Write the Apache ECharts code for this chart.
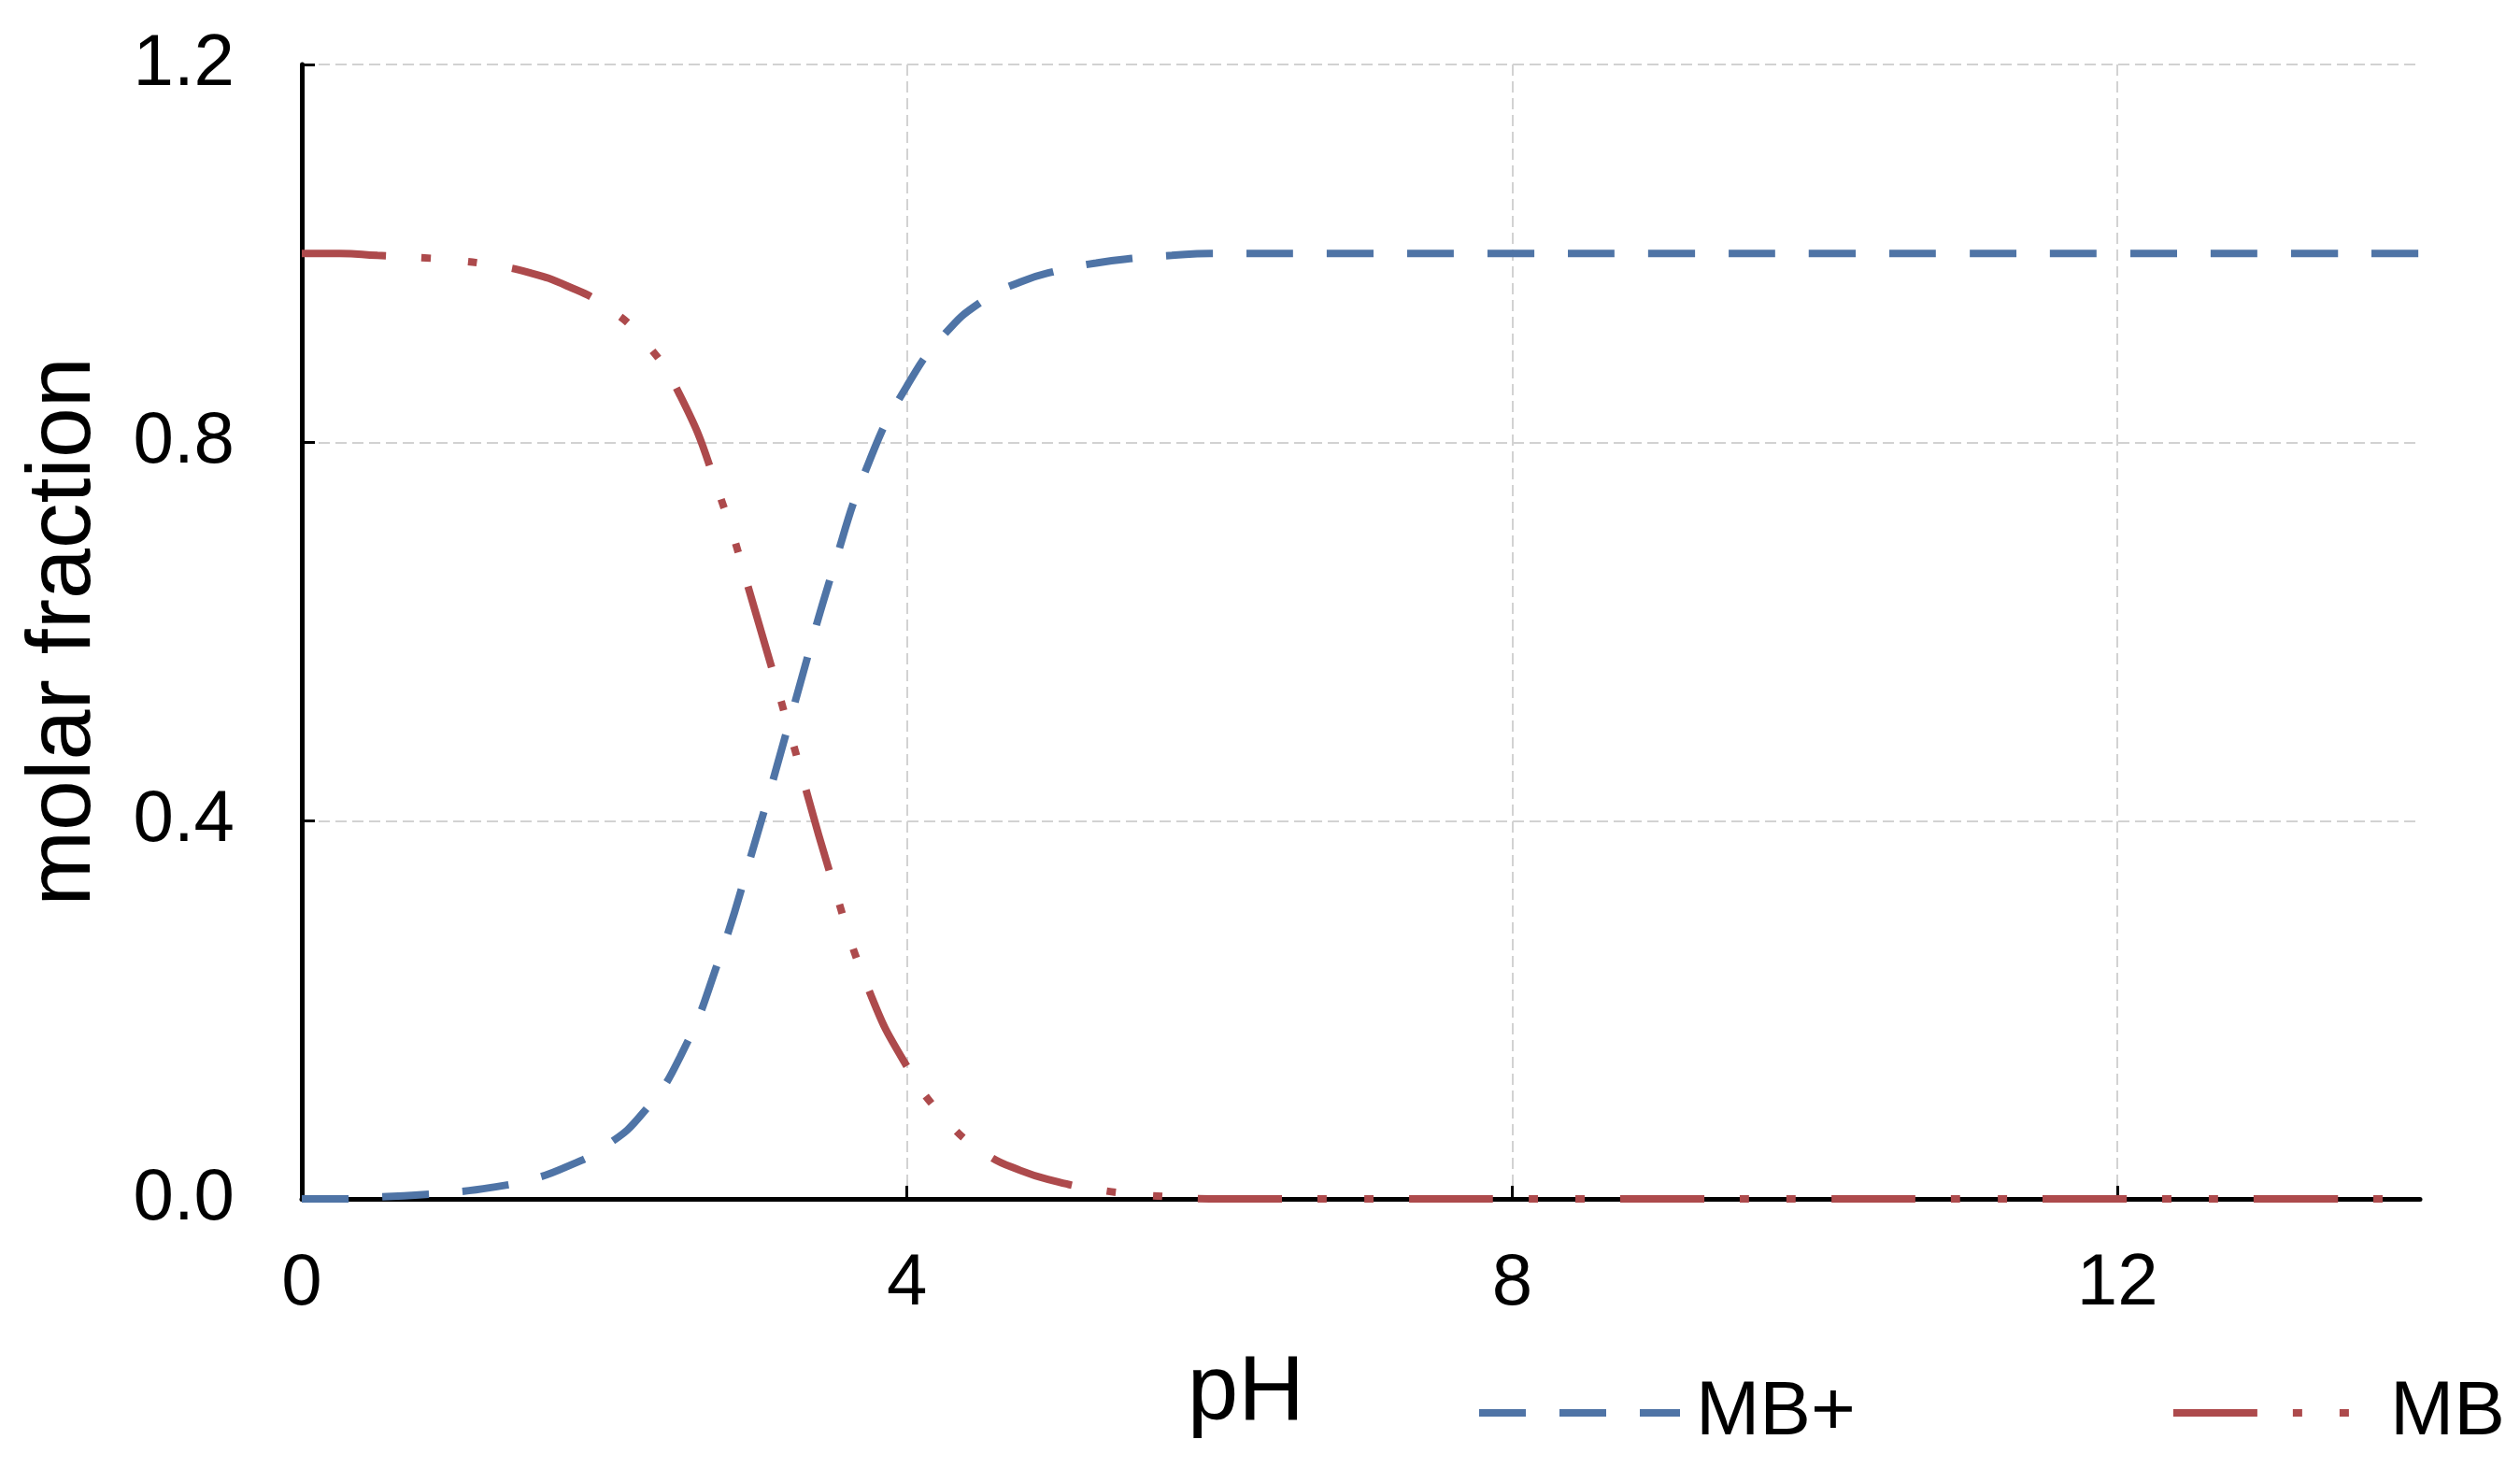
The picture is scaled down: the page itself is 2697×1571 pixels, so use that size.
<!DOCTYPE html>
<html>
<head>
<meta charset="utf-8">
<script src="https://cdn.jsdelivr.net/npm/echarts@6/dist/echarts.min.js"></script>
<style>
  html, body { margin: 0; padding: 0; background: #fff; }
  #chart { width: 2697px; height: 1571px; }
</style>
</head>
<body>
<div id="chart"></div>
<script>
// pH values and molar fractions
const phValues = [0, 0.25, 0.5, 0.75, 1.0, 1.25, 1.5, 1.75, 2.0, 2.25, 2.5, 2.75, 3.0, 3.25, 3.5, 3.75, 4.0, 4.25, 4.5, 4.75, 5.0, 5.25, 5.5, 5.75, 6.0, 7, 8, 9, 10, 11, 12, 13, 14];
const mbPlus = [0.00, 0.00, 0.002, 0.004, 0.007, 0.012, 0.02, 0.034, 0.055, 0.09, 0.15, 0.25, 0.38, 0.52, 0.66, 0.78, 0.86, 0.915, 0.95, 0.97, 0.982, 0.99, 0.995, 0.998, 1.0, 1.0, 1.0, 1.0, 1.0, 1.0, 1.0, 1.0, 1.0];
const mb = [1.00, 1.00, 0.998, 0.996, 0.993, 0.988, 0.98, 0.966, 0.945, 0.91, 0.85, 0.75, 0.62, 0.48, 0.34, 0.22, 0.14, 0.085, 0.05, 0.03, 0.018, 0.01, 0.005, 0.002, 0.0, 0.0, 0.0, 0.0, 0.0, 0.0, 0.0, 0.0, 0.0];
const seriesNames = ["MB+", "MB"];

const chart = echarts.init(document.getElementById("chart"));

function pairs(ys) {
  return phValues.map((x, i) => [x, ys[i]]);
}

const gridLine = {
  show: true,
  showMaxLine: false,
  lineStyle: { color: "#d2d2d2", width: 2, type: [12, 6] }
};

const option = {
  backgroundColor: "#fff",
  animation: false,
  grid: { left: 323, right: 107, top: 69, bottom: 288 },
  legend: {
    left: 1574,
    top: 1466,
    itemWidth: 215,
    itemHeight: 20,
    itemGap: 336,
    itemStyle: { opacity: 0 },
    lineStyle: { width: 8 },
    textStyle: {
      fontFamily: "Liberation Sans, Arial, sans-serif",
      fontSize: 82,
      color: "#000",
      padding: [0, 0, 0, 12]
    },
    data: seriesNames
  },
  xAxis: {
    type: "value",
    min: 0,
    max: 14,
    interval: 4,
    name: "pH",
    nameLocation: "middle",
    nameGap: 160,
    nameTextStyle: {
      fontFamily: "Liberation Sans, Arial, sans-serif",
      fontSize: 98,
      color: "#000",
      padding: [0, 246, 0, 0]
    },
    axisLine: { lineStyle: { color: "#000", width: 5 } },
    axisTick: { inside: true, length: 14, lineStyle: { color: "#000", width: 3 } },
    axisLabel: {
      margin: 52,
      fontFamily: "Liberation Sans Narrow, Liberation Sans, sans-serif",
      fontSize: 78,
      color: "#000",
      showMaxLabel: false
    },
    splitLine: gridLine
  },
  yAxis: {
    type: "value",
    min: 0,
    max: 1.2,
    interval: 0.4,
    name: "molar fraction",
    nameLocation: "middle",
    nameGap: 205,
    nameTextStyle: {
      fontFamily: "Liberation Sans, Arial, sans-serif",
      fontSize: 97,
      color: "#000"
    },
    axisLine: { show: true, lineStyle: { color: "#000", width: 5 } },
    axisTick: { show: true, inside: true, length: 14, lineStyle: { color: "#000", width: 3 } },
    axisLabel: {
      margin: 72,
      fontFamily: "Liberation Sans Narrow, Liberation Sans, sans-serif",
      fontSize: 78,
      color: "#000",
      formatter: v => v.toFixed(1)
    },
    splitLine: { show: true, lineStyle: gridLine.lineStyle }
  },
  series: [
    {
      name: seriesNames[0],
      type: "line",
      data: pairs(mbPlus),
      smooth: 0.5,
      symbol: "none",
      color: "#4f74a6",
      lineStyle: { color: "#4f74a6", width: 8, type: [50, 36] },
      z: 3
    },
    {
      name: seriesNames[1],
      type: "line",
      data: pairs(mb),
      smooth: 0.5,
      symbol: "none",
      color: "#ad4a4c",
      lineStyle: { color: "#ad4a4c", width: 8, type: [90, 38, 10, 40, 10, 38] },
      z: 3
    }
  ]
};

chart.setOption(option);
</script>
</body>
</html>
